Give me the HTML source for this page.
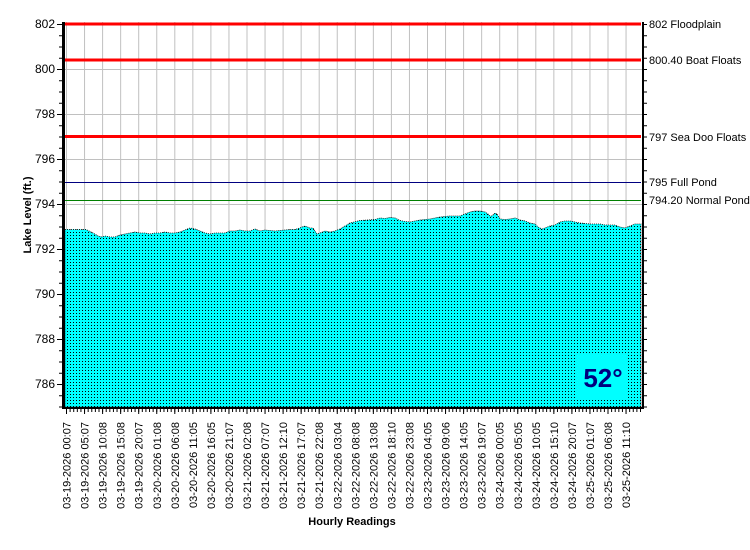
<!DOCTYPE html>
<html><head><meta charset="utf-8"><style>
html,body{margin:0;padding:0;background:#fff;}
svg{display:block;font-family:"Liberation Sans",sans-serif;}
</style></head><body>
<svg width="750" height="550" viewBox="0 0 750 550" xmlns="http://www.w3.org/2000/svg">
<defs>
<pattern id="dots" x="0" y="0" width="3" height="3" patternUnits="userSpaceOnUse">
<rect width="3" height="3" fill="#00ffff"/><rect x="1" y="1" width="1" height="1" fill="#000"/>
</pattern>
</defs>
<rect width="750" height="550" fill="#fff"/>
<g id="grid" stroke="#c0c0c0" stroke-width="1"></g>
<polygon id="area" fill="url(#dots)" stroke="#000" stroke-width="0.8" stroke-dasharray="1,1"/>
<rect x="577" y="355" width="50" height="43" fill="#00ffff"/>
<text x="603" y="387" font-size="26" font-weight="bold" fill="#00007f" text-anchor="middle" font-family="'Liberation Sans',sans-serif">52°</text>
<line x1="65" y1="24" x2="641" y2="24" stroke="#f00" stroke-width="3"/>
<line x1="65" y1="60" x2="641" y2="60" stroke="#f00" stroke-width="3"/>
<line x1="65" y1="136.5" x2="641" y2="136.5" stroke="#f00" stroke-width="3"/>
<line x1="65" y1="182.5" x2="641" y2="182.5" stroke="#000080" stroke-width="1"/>
<line x1="65" y1="200.5" x2="641" y2="200.5" stroke="#008000" stroke-width="1"/>
<rect x="62" y="22" width="3" height="387" fill="#000"/>
<rect x="642" y="22" width="2" height="387" fill="#000"/>
<line x1="62" y1="408" x2="644" y2="408" stroke="#000" stroke-width="2"/>
<g id="ticks" stroke="#000" stroke-width="1"></g>
<g font-size="12" fill="#000" text-anchor="end" id="ylab"></g>
<g font-size="11" fill="#000" id="rlab">
<text x="649" y="28">802 Floodplain</text>
<text x="649" y="64">800.40 Boat Floats</text>
<text x="649" y="141">797 Sea Doo Floats</text>
<text x="649" y="186">795 Full Pond</text>
<text x="649" y="204">794.20 Normal Pond</text>
</g>
<g font-size="11" fill="#000" id="xlab"></g>
<text transform="translate(31,215) rotate(-90)" font-size="11" font-weight="bold" text-anchor="middle">Lake Level (ft.)</text>
<text x="352" y="525" font-size="11" font-weight="bold" text-anchor="middle">Hourly Readings</text>
<script>
var NS="http://www.w3.org/2000/svg";
function el(p,t,a,txt){var e=document.createElementNS(NS,t);for(var k in a)e.setAttribute(k,a[k]);if(txt)e.textContent=txt;p.appendChild(e);return e;}
var g=document.getElementById('grid');
function Y(v){return 24+(802-v)*22.5;}
for(var i=0;i<32;i++){var x=66.5+i*18.05;el(g,'line',{x1:x,y1:22,x2:x,y2:408});}
for(var v=786;v<=800;v+=2){el(g,'line',{x1:65,y1:Y(v)+0.5,x2:642,y2:Y(v)+0.5});}
var pts=[[65,229.5],[86,229.5],[93,233],[98,236],[102,237],[105,236],[110,237],[115,237],[120,235],[130,233],[135,232],[140,233],[145,233],[150,234],[155,233],[160,233],[165,232],[170,233],[175,233],[180,232],[185,230],[190,228],[195,229],[200,231],[205,233],[210,234],[215,233],[220,233],[225,233],[230,231],[235,231],[240,230],[245,231],[250,231],[255,229],[260,231],[265,230],[270,230.5],[275,231],[280,230.5],[285,230],[290,229.5],[295,229.5],[300,228],[302,227],[305,226],[310,228],[313,228],[317,234],[320,233],[325,231],[330,232],[335,231],[340,229],[345,226],[350,223],[360,220.5],[375,219.5],[380,218],[385,218.5],[390,217.5],[395,218],[400,220.5],[405,221.5],[410,222],[415,221],[420,220],[430,219],[440,217],[450,216],[460,216],[465,214],[470,212],[475,211],[480,211],[485,212],[488,214],[490,216],[492,216],[495,213],[497,214],[500,219],[505,219.5],[510,219],[515,218],[520,220],[525,221],[530,223],[535,224],[538,227],[542,229],[545,228],[550,226],[555,225],[560,222],[565,221],[570,221],[575,222],[580,223],[590,224],[600,224],[605,225],[610,225],[615,225],[620,227],[625,228],[630,226],[635,224],[641,224]];
var s=pts.map(function(p){return p[0]+','+p[1];}).join(' ')+' 641,407 65,407';
document.getElementById('area').setAttribute('points',s);
var t=document.getElementById('ticks');
for(var v=785;v<=802;v+=0.5){var y=Y(v)+0.5;var big=(v%2==0);el(t,'line',{x1:big?57:59,y1:y,x2:62,y2:y});el(t,'line',{x1:644,y1:y,x2:647,y2:y});}
for(var x=66.5;x<642;x+=3.61){el(t,'line',{x1:x,y1:409,x2:x,y2:412});}
for(var i=0;i<32;i++){var x=66.5+i*18.05;el(t,'line',{x1:x,y1:409,x2:x,y2:414});}
var yl=document.getElementById('ylab');
for(var v=786;v<=802;v+=2){el(yl,'text',{x:55,y:Y(v)+4},String(v));}
var labs=["03-19-2026 00:07","03-19-2026 05:07","03-19-2026 10:08","03-19-2026 15:08","03-19-2026 20:07","03-20-2026 01:08","03-20-2026 06:08","03-20-2026 11:05","03-20-2026 16:05","03-20-2026 21:07","03-21-2026 02:08","03-21-2026 07:07","03-21-2026 12:10","03-21-2026 17:07","03-21-2026 22:08","03-22-2026 03:04","03-22-2026 08:08","03-22-2026 13:08","03-22-2026 18:10","03-22-2026 23:08","03-23-2026 04:05","03-23-2026 09:06","03-23-2026 14:05","03-23-2026 19:07","03-24-2026 00:05","03-24-2026 05:05","03-24-2026 10:05","03-24-2026 15:10","03-24-2026 20:07","03-25-2026 01:07","03-25-2026 06:08","03-25-2026 11:10"];
var xl=document.getElementById('xlab');
for(var i=0;i<32;i++){var x=66.5+i*18.05+4;el(xl,'text',{transform:'translate('+x+',422) rotate(-90)','text-anchor':'end'},labs[i]);}
</script>
</svg>
</body></html>
